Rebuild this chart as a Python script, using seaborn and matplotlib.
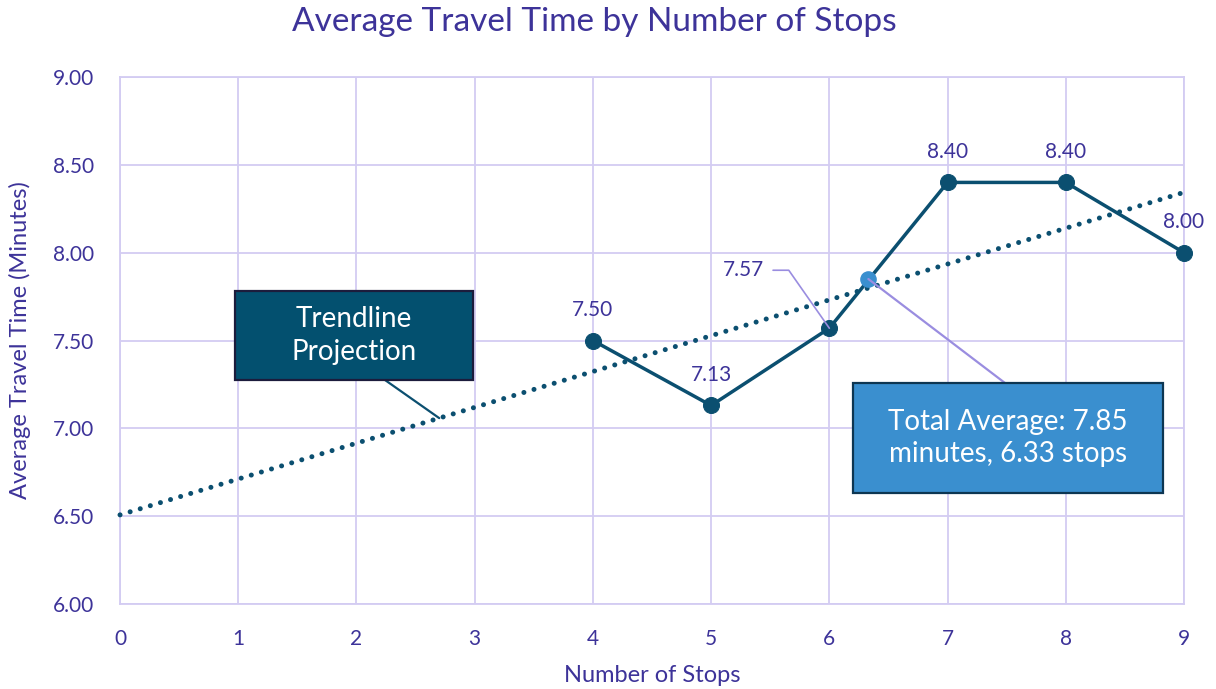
import numpy as np
import pandas as pd
import matplotlib.pyplot as plt
import seaborn as sns
from matplotlib.patches import Rectangle

# data
stops = [4, 5, 6, 7, 8, 9]
travel_time = [7.50, 7.13, 7.57, 8.40, 8.40, 8.00]
avg_stops = 6.33
avg_time = 7.85
x_ticks = list(range(0, 10))
y_ticks = [6.00, 6.50, 7.00, 7.50, 8.00, 8.50, 9.00]

PURPLE = '#3D3399'
GRID = '#D3CCF2'
LINE = '#0B4F70'
LIGHT = '#3A8FCF'
CONN = '#9A8DE0'

sns.set_theme(style="white")
plt.rcParams['font.family'] = ['Lato', 'DejaVu Sans']

df = pd.DataFrame({'stops': stops, 'time': travel_time})

fig = plt.figure(figsize=(12.16, 6.89), dpi=100)
ax = fig.add_axes([0.0987, 0.1234, 0.875, 0.7648])

# trendline (linear fit) extended from 0 to 9
slope, intercept = np.polyfit(stops, travel_time, 1)
tx = np.array([0, 9])
ax.plot(tx, slope * tx + intercept, linestyle=(0, (0.01, 2.1)), color=LINE,
        linewidth=3.6, dash_capstyle='round', zorder=3)

sns.lineplot(data=df, x='stops', y='time', ax=ax, color=LINE, linewidth=2.5,
             marker='o', markersize=11.5, markeredgecolor=LINE, zorder=4)
for ln in ax.lines:
    ln.set_clip_on(False)

ax.scatter([avg_stops], [avg_time], s=120, color=LIGHT, zorder=5)

ax.set_xlim(0, 9)
ax.set_ylim(6.0, 9.0)
ax.set_xticks(x_ticks)
ax.set_yticks(y_ticks)
ax.set_yticklabels([f'{v:.2f}' for v in y_ticks])
ax.grid(True, color=GRID, linewidth=1.3)
for s in ax.spines.values():
    s.set_color(GRID)
    s.set_linewidth(1.3)
ax.tick_params(colors=PURPLE, labelsize=15, length=0)
ax.tick_params(axis='x', pad=18)
ax.tick_params(axis='y', pad=19)
ax.set_xlabel('Number of Stops', color=PURPLE, fontsize=17, va='center')
ax.set_ylabel('Average Travel Time (Minutes)', color=PURPLE, fontsize=17, va='center')
ax.xaxis.set_label_coords(0.5, -0.135)
ax.yaxis.set_label_coords(-0.094, 0.5)
fig.suptitle('Average Travel Time by Number of Stops', color=PURPLE, fontsize=24,
             x=0.4885, y=0.99)

# data labels
for x, y in zip(stops, travel_time):
    if x == 6:
        continue
    ax.annotate(f'{y:.2f}', (x, y), xytext=(0, 22), textcoords='offset points',
                ha='center', va='center', color=PURPLE, fontsize=15)
ax.annotate(f'{travel_time[2]:.2f}', xy=(6, travel_time[2]), xytext=(5.1, 7.90),
            ha='left', va='center', color=PURPLE, fontsize=15, zorder=6,
            arrowprops=dict(arrowstyle='-', color=CONN, lw=1.2,
                            connectionstyle='angle,angleA=0,angleB=125,rad=0',
                            shrinkA=4, shrinkB=0))

# callout boxes (fixed size, placed in figure pixels)
W, H = 1216, 689


def callout(x0, y0, x1, y1, text, fc, ec, tip_from, tip_to, tip_color):
    box = Rectangle((x0 / W, 1 - y1 / H), (x1 - x0) / W, (y1 - y0) / H,
                    transform=fig.transFigure, facecolor=fc, edgecolor=ec,
                    linewidth=1.6, zorder=10)
    fig.add_artist(box)
    fig.text((x0 + x1) / 2 / W, 1 - (y0 + y1) / 2 / H, text, ha='center', va='center',
             color='white', fontsize=20, linespacing=1.3, zorder=11)
    ax.annotate('', xy=tip_to, xytext=(tip_from[0] / W, 1 - tip_from[1] / H),
                textcoords='figure fraction',
                arrowprops=dict(arrowstyle='-', color=tip_color, lw=1.6,
                                shrinkA=0, shrinkB=0), zorder=6)


callout(235, 291, 473, 380, 'Trendline\nProjection', '#03506F', '#1C1C3C',
        (385, 380), (2.7, slope * 2.7 + intercept), LINE)
callout(853, 383, 1163, 493, 'Total Average: 7.85\nminutes, 6.33 stops', LIGHT, '#0D3652',
        (1005, 383), (avg_stops, avg_time), CONN)

fig.savefig('out.png', dpi=100)
